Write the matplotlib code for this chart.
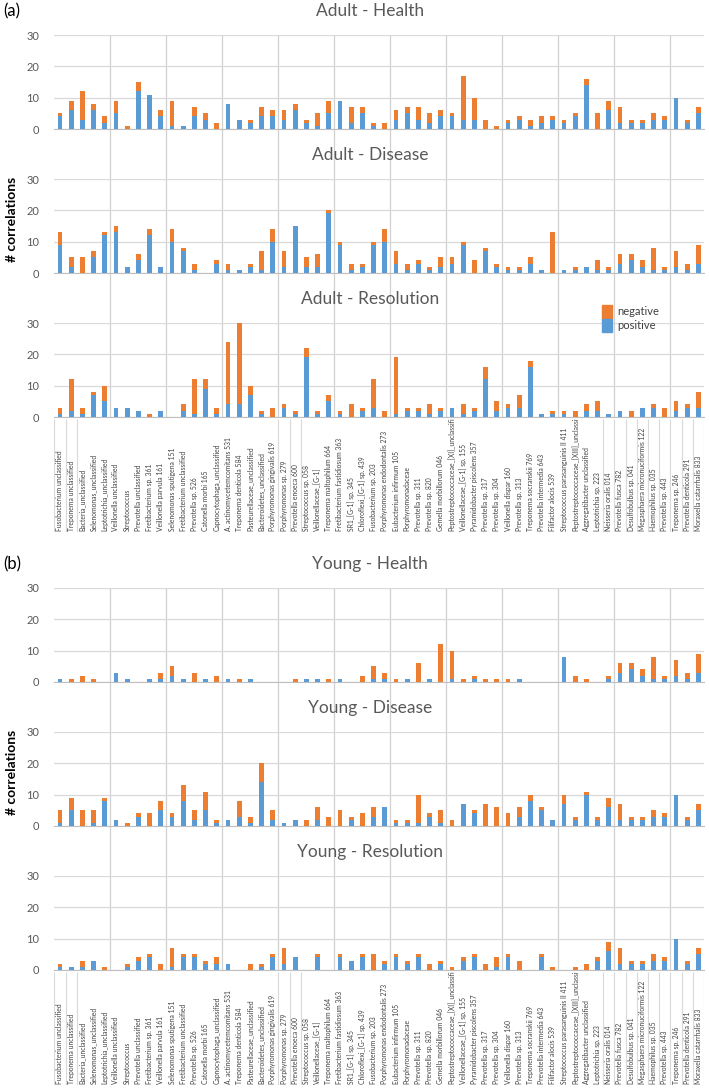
import matplotlib.pyplot as plt
from matplotlib.patches import Patch

plt.rcParams['font.family'] = ['Lato', 'DejaVu Sans']

# ==========================================
# DATASET
# ==========================================

kategori = [
    'Fusobacterium unclassified', 'Treponema unclassified', 'Bacteria_unclassified',
    'Selenomonas_unclassified', 'Leptotrichia_unclassified', 'Veillonella unclassified',
    'Streptococcus', 'Prevotella unclassified', 'Fretibacterium sp. 361',
    'Veillonella parvula 161', 'Selenomonas sputigena 151', 'Fretibacterium unclassified',
    'Prevotella sp. 526', 'Catonella morbi 165', 'Capnocytophaga_unclassified',
    'A. actinomycetemcomitans 531', 'Treponema denticola 584', 'Pasteurellaceae_unclassified',
    'Bacteroidetes_unclassified', 'Porphyromonas gingivalis 619', 'Porphyromonas sp. 279',
    'Prevotella enoeca 600', 'Streptococcus sp. 058', 'Veillonellaceae_[G-1]',
    'Treponema maltophilum 664', 'Fretibacterium fastidiosum 363', 'SR1_[G-1] sp. 345',
    'Chloroflexi_[G-1] sp. 439', 'Fusobacterium sp. 203', 'Porphyromonas endodontalis 273',
    'Eubacterium infirmum 105', 'Porphyromonadaceae', 'Prevotella sp. 311',
    'Prevotella sp. 820', 'Gemella morbillorum 046', 'Peptostreptococcaceae_[XI]_unclassified',
    'Veillonellaceae_[G-1] sp. 155', 'Pyramidobacter piscolens 357', 'Prevotella sp. 317',
    'Prevotella sp. 304', 'Veillonella dispar 160', 'Prevotella sp. 313',
    'Treponema socranskii 769', 'Prevotella intermedia 643', 'Filifactor alocis 539',
    'Streptococcus parasanguinis II 411', 'Peptostreptococcaceae_[XIII]_unclassified',
    'Aggregatibacter unclassified', 'Leptotrichia sp. 223', 'Neisseria oralis 014',
    'Prevotella fusca 782', 'Desulfobulbus sp. 041', 'Megasphaera micronuciformis 122',
    'Haemophilus sp. 035', 'Prevotella sp. 443', 'Treponema sp. 246',
    'Prevotella denticola 291', 'Moraxella catarrhalis 833',
]

adult_health_pos = [4, 6, 3, 6, 2, 5, 0, 12, 11, 4, 1, 1, 4, 3, 0, 8, 3, 2, 4, 4,
                    3, 6, 2, 1, 5, 9, 2, 5, 1, 0, 3, 5, 3, 2, 4, 4, 3, 3, 0, 0,
                    2, 3, 1, 2, 3, 2, 4, 14, 0, 6, 2, 2, 2, 3, 3, 10, 2, 5]
adult_health_neg = [1, 3, 9, 2, 2, 4, 1, 3, 0, 2, 8, 0, 3, 2, 2, 0, 0, 1, 3, 2,
                    3, 2, 1, 4, 4, 0, 5, 2, 1, 2, 3, 2, 4, 3, 2, 1, 14, 7, 3, 1,
                    1, 1, 2, 2, 1, 1, 1, 2, 5, 3, 5, 1, 1, 2, 1, 0, 1, 2]

adult_disease_pos = [9, 2, 0, 5, 12, 13, 2, 4, 12, 2, 10, 7, 1, 0, 3, 1, 1, 2, 1, 10,
                     2, 15, 2, 2, 19, 9, 1, 2, 9, 10, 3, 1, 3, 1, 2, 3, 9, 0, 7, 2,
                     1, 1, 3, 1, 0, 1, 1, 2, 1, 1, 3, 4, 2, 1, 1, 2, 1, 3]
adult_disease_neg = [4, 3, 5, 2, 1, 2, 0, 2, 2, 0, 4, 1, 2, 0, 1, 2, 0, 1, 6, 4,
                     5, 0, 3, 4, 1, 1, 2, 1, 1, 4, 4, 2, 1, 1, 3, 2, 1, 4, 1, 1,
                     1, 1, 2, 0, 13, 0, 1, 0, 3, 1, 3, 2, 2, 7, 1, 5, 2, 6]

adult_resolution_pos = [1, 2, 1, 7, 5, 3, 3, 2, 0, 2, 0, 2, 1, 9, 1, 4, 4, 7, 1, 0,
                        3, 1, 19, 1, 5, 1, 0, 2, 3, 0, 1, 2, 2, 1, 2, 3, 1, 2, 12, 2,
                        3, 3, 16, 1, 1, 1, 0, 2, 2, 1, 2, 0, 3, 3, 0, 2, 3, 3]
adult_resolution_neg = [2, 10, 2, 1, 5, 0, 0, 0, 1, 0, 0, 2, 11, 3, 2, 20, 26, 3, 1, 3,
                        1, 1, 3, 1, 2, 1, 4, 1, 9, 2, 18, 1, 1, 3, 1, 0, 3, 1, 4, 3,
                        1, 4, 2, 0, 1, 1, 2, 2, 3, 0, 0, 2, 0, 1, 3, 3, 1, 5]

young_health_pos = [1, 0, 0, 0, 0, 3, 1, 0, 1, 1, 2, 1, 0, 1, 0, 1, 0, 1, 0, 0,
                    0, 0, 1, 1, 0, 1, 0, 0, 1, 1, 0, 1, 0, 1, 0, 1, 0, 1, 0, 0,
                    0, 1, 0, 0, 0, 8, 0, 0, 0, 1, 3, 4, 2, 1, 1, 2, 1, 3]
young_health_neg = [0, 1, 2, 1, 0, 0, 0, 0, 0, 2, 3, 0, 3, 0, 2, 0, 1, 0, 0, 0,
                    0, 1, 0, 0, 1, 0, 0, 2, 4, 2, 1, 0, 6, 0, 12, 9, 1, 1, 1, 1,
                    1, 0, 0, 0, 0, 0, 2, 1, 0, 1, 3, 2, 2, 7, 1, 5, 2, 6]

young_disease_pos = [1, 5, 0, 1, 8, 2, 0, 3, 0, 5, 3, 8, 2, 5, 1, 2, 3, 1, 14, 2,
                     1, 2, 0, 2, 0, 0, 2, 0, 3, 6, 1, 1, 1, 3, 1, 0, 7, 4, 0, 0,
                     0, 3, 8, 5, 2, 7, 2, 10, 2, 6, 2, 2, 2, 3, 3, 10, 2, 5]
young_disease_neg = [4, 4, 5, 4, 1, 0, 1, 1, 4, 3, 1, 5, 3, 6, 1, 0, 5, 2, 6, 3,
                     0, 0, 2, 4, 3, 5, 1, 4, 3, 0, 1, 1, 9, 1, 4, 2, 0, 1, 7, 6,
                     4, 3, 2, 1, 0, 3, 1, 1, 1, 3, 5, 1, 1, 2, 1, 0, 1, 2]

young_resolution_pos = [1, 1, 1, 3, 0, 0, 1, 3, 4, 0, 1, 4, 4, 2, 2, 2, 0, 0, 1, 4,
                        2, 4, 0, 4, 0, 4, 3, 4, 0, 2, 4, 2, 4, 0, 2, 0, 3, 4, 0, 1,
                        4, 0, 0, 4, 0, 0, 0, 0, 3, 6, 2, 2, 2, 3, 3, 10, 2, 5]
young_resolution_neg = [1, 0, 2, 0, 1, 0, 1, 1, 1, 2, 6, 1, 1, 1, 2, 0, 0, 2, 1, 1,
                        5, 0, 0, 1, 0, 1, 0, 1, 5, 1, 1, 1, 1, 2, 1, 1, 1, 1, 2, 3,
                        1, 3, 0, 1, 1, 0, 1, 2, 1, 3, 5, 1, 1, 2, 1, 0, 1, 2]

# ==========================================
# STYLE & LAYOUT (pixel)
# ==========================================

BIRU = '#5B9BD5'
ORANYE = '#ED7D31'
ABU = '#595959'
GRID = '#D9D9D9'

W, H = 709, 1089
KIRI, KANAN = 54.4, 704.0
TINGGI = 94

x = list(range(len(kategori)))


def kotak(atas, bawah):
    return [KIRI / W, 1 - bawah / H, (KANAN - KIRI) / W, (bawah - atas) / H]


panel = [
    ('(a)', 'Adult', [35, 179, 323], 532, [
        ('Health', adult_health_pos, adult_health_neg),
        ('Disease', adult_disease_pos, adult_disease_neg),
        ('Resolution', adult_resolution_pos, adult_resolution_neg),
    ]),
    ('(b)', 'Young', [588, 732, 876], 1085, [
        ('Health', young_health_pos, young_health_neg),
        ('Disease', young_disease_pos, young_disease_neg),
        ('Resolution', young_resolution_pos, young_resolution_neg),
    ]),
]

# ==========================================
# MEMBUAT GRAFIK
# ==========================================

fig = plt.figure(figsize=(W / 100, H / 100), dpi=100)

for huruf, grup, atas_list, label_bawah, kondisi_list in panel:

    bawah_res = atas_list[-1] + TINGGI

    # garis vertikal tiap 5 kategori
    bg = fig.add_axes(kotak(atas_list[0], bawah_res))
    bg.set_xlim(-0.5, len(kategori) - 0.5)
    bg.set_ylim(0, 1)
    bg.axis('off')
    bg.vlines([i + 4.5 for i in range(0, 55, 5)], 0, 1, color='#D0D0D0', lw=0.9)

    fig.text(12 / W, 1 - (atas_list[0] - 24) / H, huruf,
             fontsize=12, ha='center', va='center')

    for atas, (kondisi, pos, neg) in zip(atas_list, kondisi_list):

        ax = fig.add_axes(kotak(atas, atas + TINGGI))
        ax.set_facecolor('none')

        ax.bar(x, pos, width=0.42, color=BIRU, label='positive', zorder=3)
        ax.bar(x, neg, width=0.42, bottom=pos, color=ORANYE, label='negative', zorder=3)

        ax.set_xlim(-0.5, len(kategori) - 0.5)
        ax.set_ylim(0, 30)
        ax.set_yticks([0, 10, 20, 30])
        ax.set_xticks([])
        ax.yaxis.grid(True, color=GRID, lw=0.9)
        ax.set_axisbelow(True)
        for s in ['top', 'left', 'right']:
            ax.spines[s].set_visible(False)
        ax.spines['bottom'].set_color('#BFBFBF')
        ax.tick_params(axis='y', length=0, pad=11, labelsize=8, labelcolor=ABU)

        fig.text(370 / W, 1 - (atas - 24) / H, f'{grup} - {kondisi}',
                 fontsize=12.5, color=ABU, ha='center', va='center')

        if grup == 'Adult' and kondisi == 'Resolution':
            ax.legend(handles=[Patch(color=ORANYE, label='negative'),
                               Patch(color=BIRU, label='positive')],
                      loc='upper left', bbox_to_anchor=(602 / W, 1 - 305 / H),
                      bbox_transform=fig.transFigure, frameon=False,
                      fontsize=8, handlelength=0.9, handleheight=1.5,
                      labelspacing=0, handletextpad=0.5, borderpad=0,
                      borderaxespad=0, labelcolor='#404040')

    fig.text(12 / W, 1 - (atas_list[1] + TINGGI - 54) / H, '# correlations',
             rotation=90, fontsize=10, fontweight='bold', ha='center', va='center')

    # label kategori di bawah sumbu
    lab = fig.add_axes(kotak(bawah_res + 2, label_bawah))
    lab.set_xlim(-0.5, len(kategori) - 0.5)
    lab.set_ylim(0, 1)
    lab.axis('off')
    batas = [0, 1, 2, 20, 21, 22] + list(range(49, 59))
    lab.vlines([b - 0.5 for b in batas], 0, 1, color=GRID, lw=0.8)
    for i, nama in enumerate(kategori):
        lab.text(i, 0.01, nama, rotation=90, ha='center', va='bottom',
                 fontsize=4.9, color='#404040', clip_on=True)

# ==========================================
# SIMPAN GAMBAR
# ==========================================

fig.savefig('out.png', dpi=100)
